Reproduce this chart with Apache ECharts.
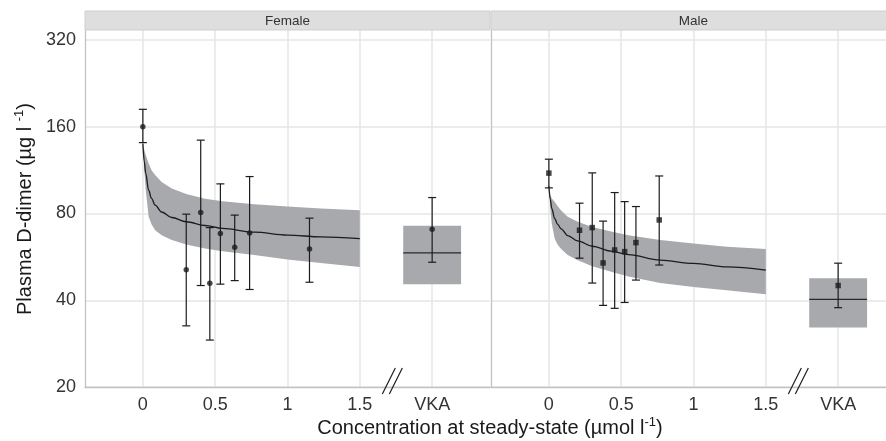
<!DOCTYPE html>
<html>
<head>
<meta charset="utf-8">
<script src="https://cdn.jsdelivr.net/npm/echarts@6/dist/echarts.min.js"></script>
<style>
html, body { margin: 0; padding: 0; background: #fff; }
#chart { width: 886px; height: 441px; }
</style>
</head>
<body>
<div id="chart"></div>
<script>
const panels = ['Female', 'Male']
const xTicks = [0, 0.5, 1, 1.5, 2]
const yTicks = [20, 40, 80, 160, 320]
const vkaX = 2
const breakX = 1.725

// observed means and error bars, concentration in µmol/l
const femaleX = [0, 0.30, 0.40, 0.463, 0.536, 0.635, 0.738, 1.152]
const femaleMean = [160, 51, 80.6, 45.8, 68.2, 61.1, 68.5, 60.2]
const femaleLow = [141, 32.6, 45, 29.1, 45.5, 46.8, 43.6, 46.2]
const femaleHigh = [184, 79.6, 143.8, 71.5, 101.4, 79, 107.5, 77.1]

const maleX = [0, 0.212, 0.30, 0.375, 0.455, 0.524, 0.602, 0.763]
const maleMean = [110.5, 70, 71.5, 53.9, 59.8, 59, 63.4, 76]
const maleLow = [98.2, 56, 45.9, 38.4, 37.5, 39.3, 47, 53]
const maleHigh = [123.5, 86.9, 110.7, 75.3, 94.6, 88, 84.6, 108]

// VKA group: [mean, low, high] and box [lower, median, upper]
const femaleVka = [70.6, 54.2, 90.9]
const femaleVkaBox = [45.5, 58.4, 72.5]
const maleVka = [45, 37.7, 53.8]
const maleVkaBox = [32.2, 40.3, 47.7]

// model prediction and its band
const predX = [0, 0.01, 0.02, 0.04, 0.06, 0.085, 0.13, 0.2, 0.3, 0.43, 0.55, 0.77, 1.0, 1.23, 1.5]
const femaleFit = [140, 121, 110.2, 96.4, 90.3, 85.5, 81, 77.5, 74.9, 72.7, 71, 68.9, 67.3, 66.4, 65.5]
const femaleUpper = [140, 132.8, 127.6, 119.4, 113, 108.8, 103, 97.8, 93.5, 90, 88.3, 86.2, 84.6, 83.3, 82.2]
const femaleLower = [140, 113, 96.4, 77.9, 73.5, 70, 67.3, 64.7, 62.4, 60.5, 59.2, 57.4, 55.4, 53.9, 52.2]
const maleFit = [99.5, 89.5, 83.3, 76.9, 73.5, 70.8, 67.1, 64.3, 61.6, 59.2, 57.6, 55.1, 53.7, 52.2, 50.9]
const maleUpper = [99.5, 92.7, 90.3, 87.9, 84.9, 82, 77.9, 74.9, 71.9, 69.3, 67.2, 64.7, 62.9, 61.4, 60.3]
const maleLower = [99.5, 83.3, 73.9, 65.5, 62.5, 60.3, 57.4, 55.1, 52.5, 50.2, 48.4, 45.9, 44.5, 43.3, 42]

const font = 'Liberation Sans, Arial, Helvetica, sans-serif'
const grey = '#a8a9ad'
const ink = '#1c1c1c'
const yMax = 4.116
const boxHalf = 0.2
const xMin = -0.4
const pxPerUnit = 405 / 2.8

// log2 scale relative to the lowest tick
const lg = v => Math.log2(v / yTicks[0])

const chart = echarts.init(document.getElementById('chart'))

function bandSeries(idx, upper, lower) {
    return {
        type: 'custom',
        xAxisIndex: idx,
        yAxisIndex: idx,
        silent: true,
        z: 1,
        data: predX.map((x, i) => [x, lg(lower[i]), lg(upper[i])]),
        renderItem(params, api) {
            if (params.dataIndex !== 0) return null
            const pts = []
            for (let i = 0; i < predX.length; i++) pts.push(api.coord([predX[i], lg(upper[i])]))
            for (let i = predX.length - 1; i >= 0; i--) pts.push(api.coord([predX[i], lg(lower[i])]))
            return { type: 'polygon', shape: { points: pts }, style: { fill: grey } }
        }
    }
}

function fitSeries(idx, fit) {
    return {
        type: 'line',
        xAxisIndex: idx,
        yAxisIndex: idx,
        silent: true,
        z: 2,
        showSymbol: false,
        smooth: 0.35,
        smoothMonotone: 'x',
        lineStyle: { color: ink, width: 1.3 },
        data: predX.map((x, i) => [x, lg(fit[i])])
    }
}

function boxSeries(idx, box) {
    return {
        type: 'custom',
        xAxisIndex: idx,
        yAxisIndex: idx,
        silent: true,
        z: 2,
        data: [[vkaX, lg(box[0]), lg(box[1]), lg(box[2])]],
        renderItem(params, api) {
            const x = api.value(0)
            const tl = api.coord([x - boxHalf, api.value(3)])
            const br = api.coord([x + boxHalf, api.value(1)])
            const med = api.coord([x, api.value(2)])
            return {
                type: 'group',
                children: [
                    { type: 'rect', shape: { x: tl[0], y: tl[1], width: br[0] - tl[0], height: br[1] - tl[1] }, style: { fill: grey } },
                    { type: 'line', shape: { x1: tl[0], y1: med[1], x2: br[0], y2: med[1] }, style: { stroke: '#2a2a2a', lineWidth: 1.2 } }
                ]
            }
        }
    }
}

function errorSeries(idx, xs, lows, highs, vka) {
    const data = xs.map((x, i) => [x, lg(lows[i]), lg(highs[i])])
    data.push([vkaX, lg(vka[1]), lg(vka[2])])
    return {
        type: 'custom',
        xAxisIndex: idx,
        yAxisIndex: idx,
        silent: true,
        z: 3,
        data,
        renderItem(params, api) {
            const lo = api.coord([api.value(0), api.value(1)])
            const hi = api.coord([api.value(0), api.value(2)])
            const w = 4
            const style = { stroke: ink, lineWidth: 1.2 }
            return {
                type: 'group',
                children: [
                    { type: 'line', shape: { x1: lo[0], y1: lo[1], x2: hi[0], y2: hi[1] }, style },
                    { type: 'line', shape: { x1: lo[0] - w, y1: lo[1], x2: lo[0] + w, y2: lo[1] }, style },
                    { type: 'line', shape: { x1: hi[0] - w, y1: hi[1], x2: hi[0] + w, y2: hi[1] }, style }
                ]
            }
        }
    }
}

function pointSeries(idx, xs, means, vka, symbol) {
    const data = xs.map((x, i) => [x, lg(means[i])])
    data.push([vkaX, lg(vka[0])])
    return {
        type: 'scatter',
        xAxisIndex: idx,
        yAxisIndex: idx,
        silent: true,
        z: 4,
        symbol,
        symbolSize: 5.5,
        itemStyle: { color: ink },
        data
    }
}

function breakSeries(idx) {
    return {
        type: 'custom',
        xAxisIndex: idx,
        yAxisIndex: idx,
        silent: true,
        z: 5,
        data: [[breakX, 0]],
        renderItem(params, api) {
            const p = api.coord([api.value(0), api.value(1)])
            const style = { stroke: ink, lineWidth: 1.2 }
            return {
                type: 'group',
                children: [
                    { type: 'line', shape: { x1: p[0] - 10, y1: p[1] + 7, x2: p[0] + 3, y2: p[1] - 19 }, style },
                    { type: 'line', shape: { x1: p[0] - 3, y1: p[1] + 7, x2: p[0] + 10, y2: p[1] - 19 }, style }
                ]
            }
        }
    }
}

const axisLine = { show: true, onZero: false, lineStyle: { color: '#c2c2c2', width: 1.3 } }
const splitLine = { show: true, lineStyle: { color: '#e6e6e6', width: 1.5 } }

// the right facet is cut off by the picture's edge
const grids = [
    { left: 85, top: 30, width: 405, height: 357 },
    { left: 491, top: 30, width: 395, height: 357 }
]

const xAxes = grids.map((g, idx) => ({
    type: 'value',
    gridIndex: idx,
    min: xMin,
    max: xMin + g.width / pxPerUnit,
    axisLine,
    axisTick: { show: false, customValues: xTicks },
    axisLabel: {
        customValues: xTicks,
        formatter: v => (v === vkaX ? 'VKA' : String(v)),
        color: '#333',
        fontSize: 18,
        fontFamily: font,
        margin: 9
    },
    splitLine
}))

const yAxes = grids.map((g, idx) => ({
    type: 'value',
    gridIndex: idx,
    min: 0,
    max: yMax,
    interval: 1,
    axisLine,
    axisTick: { show: false, customValues: yTicks.map(lg) },
    axisLabel: {
        show: idx === 0,
        customValues: yTicks.map(lg),
        formatter: v => String(Math.round(yTicks[0] * Math.pow(2, v))),
        color: '#333',
        fontSize: 18,
        fontFamily: font,
        margin: 9
    },
    splitLine
}))

const series = [
    bandSeries(0, femaleUpper, femaleLower),
    bandSeries(1, maleUpper, maleLower),
    fitSeries(0, femaleFit),
    fitSeries(1, maleFit),
    boxSeries(0, femaleVkaBox),
    boxSeries(1, maleVkaBox),
    errorSeries(0, femaleX, femaleLow, femaleHigh, femaleVka),
    errorSeries(1, maleX, maleLow, maleHigh, maleVka),
    pointSeries(0, femaleX, femaleMean, femaleVka, 'circle'),
    pointSeries(1, maleX, maleMean, maleVka, 'rect'),
    breakSeries(0),
    breakSeries(1)
]

const titleRich = {
    n: { fontSize: 20, fontFamily: font, fill: '#1a1a1a', lineHeight: 24 },
    s: { fontSize: 13, fontFamily: font, fill: '#1a1a1a', verticalAlign: 'top', lineHeight: 24 }
}

const graphic = []
grids.forEach((g, idx) => {
    graphic.push({
        type: 'rect',
        z: 100,
        shape: { x: g.left, y: 11, width: idx === 0 ? g.width : 405, height: 19 },
        style: { fill: '#dedede', stroke: '#cfcfcf', lineWidth: 1 }
    })
    graphic.push({
        type: 'text',
        z: 101,
        x: g.left + 405 / 2,
        y: 21,
        style: { text: panels[idx], font: '13.5px ' + font, fill: '#333', align: 'center', verticalAlign: 'middle' }
    })
})
graphic.push({
    type: 'text',
    z: 101,
    x: 490,
    y: 428,
    style: {
        text: '{n|Concentration at steady-state (µmol l}{s|-1}{n|)}',
        rich: titleRich,
        align: 'center',
        verticalAlign: 'middle'
    }
})
graphic.push({
    type: 'text',
    z: 101,
    x: 25,
    y: 209,
    rotation: Math.PI / 2,
    style: {
        text: '{n|Plasma D-dimer (µg l }{s|-1}{n|)}',
        rich: titleRich,
        align: 'center',
        verticalAlign: 'middle'
    }
})

chart.setOption({
    animation: false,
    backgroundColor: '#fff',
    grid: grids,
    xAxis: xAxes,
    yAxis: yAxes,
    series,
    graphic
})
</script>
</body>
</html>
